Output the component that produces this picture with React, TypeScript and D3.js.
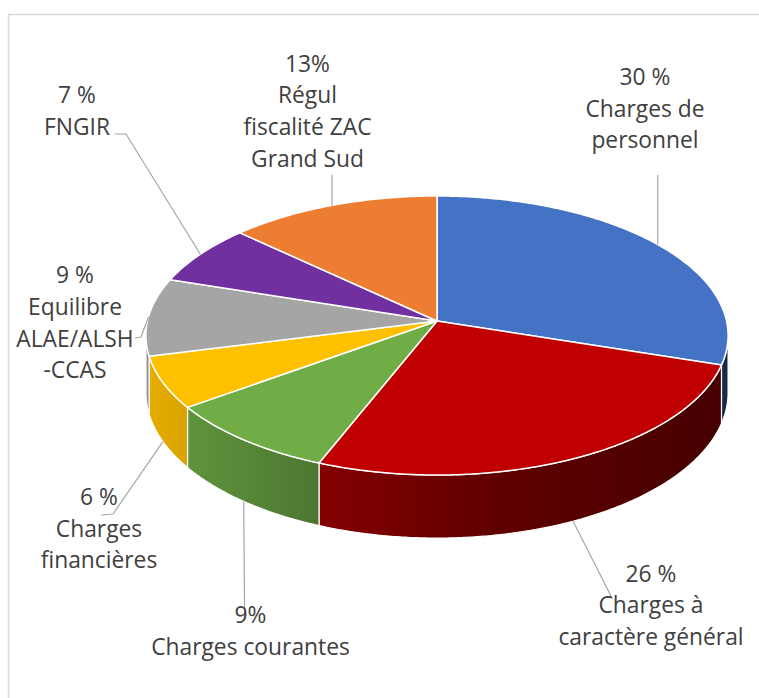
import React from "react";
import * as d3 from "d3";

const categories = [
  "Charges de personnel",
  "Charges à caractère général",
  "Charges courantes",
  "Charges financières",
  "Equilibre ALAE/ALSH-CCAS",
  "FNGIR",
  "Régul fiscalité ZAC Grand Sud",
];
const values = [30, 26, 9, 6, 9, 7, 13];
const percentLabels = ["30 %", "26 %", "9%", "6 %", "9 %", "7 %", "13%"];
const labelLines = [
  ["30 %", "Charges de", "personnel"],
  ["26 %", "Charges à", "caractère général"],
  ["9%", "Charges courantes"],
  ["6 %", "Charges", "financières"],
  ["9 %", "Equilibre", "ALAE/ALSH", "-CCAS"],
  ["7 %", "FNGIR"],
  ["13%", "Régul", "fiscalité ZAC", "Grand Sud"],
];
const colors = ["#4472C4", "#C00000", "#70AD47", "#FFC000", "#A5A5A5", "#7030A0", "#ED7D31"];

// layout (not data)
const W = 759, H = 698;
const CX = 437, CY = 321, A = 289.5, B = 138, K = 0.104, THICK = 56.5;
const LINE_H = 31.7;
const labelLayout = [
  { x: 645, y: 85, leader: "top" },
  { x: 651, y: 581.5, leader: "red" },
  { x: 250.5, y: 623.3, leader: "green" },
  { x: 99, y: 505, leader: "yellow" },
  { x: 75, y: 283.3, leader: "gray" },
  { x: 77, y: 103.3, leader: "purple" },
  { x: 307.5, y: 71.7, leader: "top" },
];

function proj(t: number, depth: number): [number, number] {
  const u = Math.sin(t), v = Math.cos(t);
  const w = 1 + K * v;
  return [CX + (A * u) / w, CY - (B * v) / w + (depth * THICK) / w];
}

function rimPts(a0: number, a1: number, depth: number): [number, number][] {
  const n = Math.max(2, Math.ceil(((a1 - a0) * 180) / Math.PI / 0.5));
  const pts: [number, number][] = [];
  for (let i = 0; i <= n; i++) pts.push(proj(a0 + ((a1 - a0) * i) / n, depth));
  return pts;
}

const line = d3.line<[number, number]>();

function shade(c: string, f: number) {
  const r = d3.rgb(c);
  return d3.rgb(r.r * f, r.g * f, r.b * f).formatHex();
}

const shadeStops = [
  [0, 0.9],
  [0.3, 0.68],
  [0.6, 0.5],
  [1, 0.36],
];

export default function App() {
  const pie = d3.pie<number>().sort(null).value((d) => d);
  const arcs = pie(values);
  const tR = Math.acos(-K);
  const tL = 2 * Math.PI - tR;
  const apex: [number, number] = [CX, CY];

  return (
    <svg
      width={W}
      height={H}
      viewBox={`0 0 ${W} ${H}`}
      style={{ position: "absolute", left: 0, top: 0, background: "#fff" }}
    >
      <defs>
        {colors.map((c, i) => (
          <linearGradient key={i} id={`side${i}`} gradientUnits="userSpaceOnUse" x1={148} x2={730} y1={0} y2={0}>
            {shadeStops.map(([o, f], j) => (
              <stop key={j} offset={o} stopColor={shade(c, f)} />
            ))}
          </linearGradient>
        ))}
      </defs>
      <rect x={8.5} y={14.5} width={W + 10} height={H + 10} fill="#fff" stroke="#d9d9d9" strokeWidth={1.5} />

      {/* sides */}
      {arcs.map((a, i) => {
        const a0 = Math.max(a.startAngle, tR);
        const a1 = Math.min(a.endAngle, tL);
        if (a0 >= a1) return null;
        const top = rimPts(a0, a1, 0);
        const bot = rimPts(a0, a1, 1).reverse();
        return (
          <path
            key={`s${i}`}
            d={line([...top, ...bot])! + "Z"}
            fill={`url(#side${i})`}
            stroke="#fff"
            strokeWidth={1.2}
            strokeLinejoin="round"
          />
        );
      })}

      {/* top faces */}
      {arcs.map((a, i) => {
        const pts = rimPts(a.startAngle, a.endAngle, 0);
        return (
          <path
            key={`t${i}`}
            d={line([apex, ...pts])! + "Z"}
            fill={colors[i]}
            stroke="#fff"
            strokeWidth={1.5}
            strokeLinejoin="round"
          />
        );
      })}

      {/* leaders */}
      {arcs.map((a, i) => {
        const mid = (a.startAngle + a.endAngle) / 2;
        const L = labelLayout[i];
        const front = mid > tR && mid < tL;
        const p = proj(mid, front ? 1 : 0);
        let pts: [number, number][] = [];
        if (L.leader === "top") pts = [[p[0], 175], p];
        else if (L.leader === "red") pts = [[612, 598], p];
        else if (L.leader === "green") pts = [[p[0] + 1, 620], p];
        else if (L.leader === "yellow") pts = [[101, 515], [113, 514], p];
        else if (L.leader === "gray") pts = [[135, 338], [141, 337], p];
        else if (L.leader === "purple") pts = [[115, 134], [126, 134], p];
        return <path key={`l${i}`} d={line(pts)!} fill="none" stroke="#a6a6a6" strokeWidth={1.2} />;
      })}

      {/* labels */}
      {labelLines.map((lines, i) => {
        const L = labelLayout[i];
        return (
          <text
            key={`x${i}`}
            x={L.x}
            y={L.y}
            textAnchor="middle"
            fontFamily="'Open Sans', sans-serif"
            fontSize={22.8}
            fill="#404040"
          >
            <title>{`${categories[i]}: ${percentLabels[i]}`}</title>
            {lines.map((s, j) => (
              <tspan key={j} x={L.x} y={L.y + j * LINE_H}>
                {s}
              </tspan>
            ))}
          </text>
        );
      })}
    </svg>
  );
}
